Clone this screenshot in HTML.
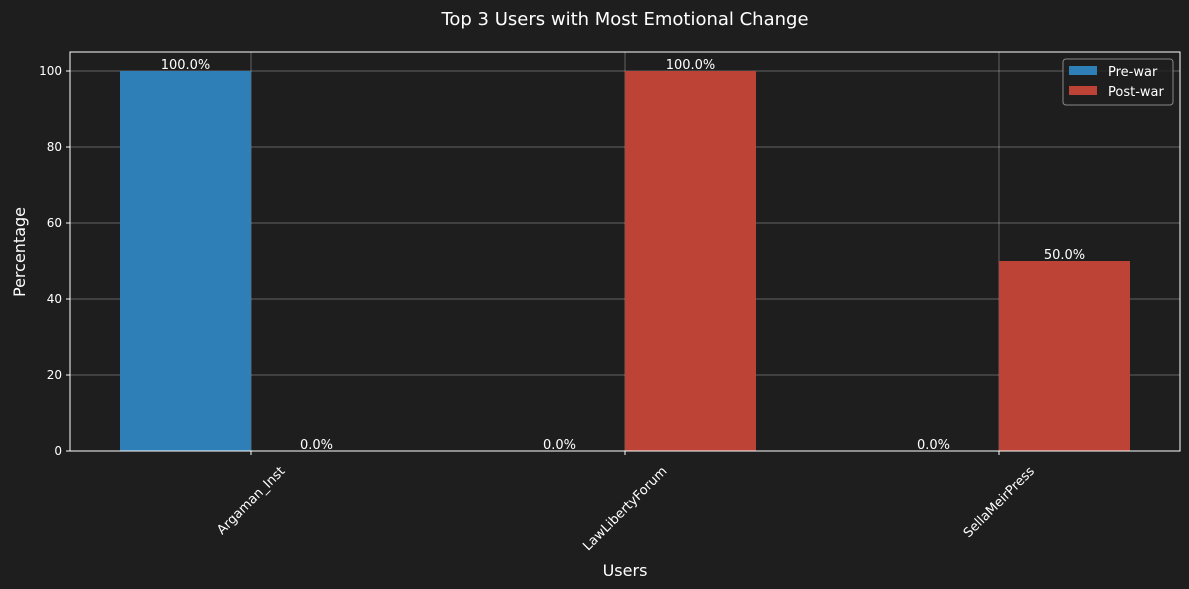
<!DOCTYPE html>
<html><head><meta charset="utf-8"><style>
html,body{margin:0;padding:0;background:#1e1e1e;}
svg{display:block;font-family:"DejaVu Sans","Liberation Sans",sans-serif;}
</style></head><body>
<svg id="c" width="1189" height="589" viewBox="0 0 1189 589">
<rect width="1189" height="589" fill="#1e1e1e"/>
<text x="625" y="25" text-anchor="middle" font-size="18" fill="#ffffff">Top 3 Users with Most Emotional Change</text>
<g id="grid"></g><g id="bars"></g><g id="labels"></g><g id="axes"></g>
<text x="625" y="576" text-anchor="middle" font-size="16" fill="#ffffff">Users</text>
<text transform="translate(25,252) rotate(-90)" text-anchor="middle" font-size="16" fill="#ffffff">Percentage</text>
<g>
<rect x="1063" y="59" width="110" height="46" rx="3" fill="#1e1e1e" fill-opacity="0.8" stroke="#888"/>
<rect x="1069" y="66" width="28" height="9" fill="#2e7fb8"/>
<text x="1108" y="76" font-size="13" fill="#ffffff">Pre-war</text>
<rect x="1069" y="86" width="28" height="9" fill="#be4337"/>
<text x="1108" y="96" font-size="13" fill="#ffffff">Post-war</text>
</g>
</svg>
<script>
const categories=["Argaman_Inst","LawLibertyForum","SellaMeirPress"];
const preWar=[100,0,0];
const postWar=[0,100,50];
const yTicks=[0,20,40,60,80,100];
const NS="http://www.w3.org/2000/svg";
const L=70,R=1180,T=52,B=451;
const y=v=>B-(v/105)*(B-T);
const x=i=>251+i*374;
const bw=131;
function mk(tag,attrs,parent,txt){const e=document.createElementNS(NS,tag);for(const k in attrs)e.setAttribute(k,attrs[k]);if(txt!==undefined)e.textContent=txt;document.getElementById(parent).appendChild(e);return e;}
yTicks.forEach(t=>{
 const g=mk("line",{x1:L,x2:R,y1:y(t),y2:y(t),stroke:"#ffffff","stroke-opacity":0.3,"stroke-width":1},"grid");
 
 
 const tk=mk("line",{x1:L-4,x2:L,y1:y(t),y2:y(t),stroke:"#fff"},"axes");
 
 
 const lb=mk("text",{x:L-8,y:y(t)+4,"text-anchor":"end","font-size":12,fill:"#fff"},"axes",t);
 
 
});
categories.forEach((c,i)=>{
 const g=mk("line",{x1:x(i),x2:x(i),y1:T,y2:B,stroke:"#ffffff","stroke-opacity":0.3},"grid");
 
 
 [[preWar[i],-1,"#2e7fb8","pre-war"],[postWar[i],0,"#be4337","post-war"]].forEach(([v,off,col,nm])=>{
  const bx=x(i)+off*bw;
  const r=mk("rect",{x:bx,y:y(v),width:bw,height:B-y(v),fill:col},"bars");
  
  
  const t=mk("text",{x:bx+bw/2,y:y(v)-2,"text-anchor":"middle","font-size":13,fill:"#fff"},"labels",v.toFixed(1)+"%");
  
  
 });
 const tk=mk("line",{x1:x(i),x2:x(i),y1:B,y2:B+4,stroke:"#fff"},"axes");
 
 
 const lb=mk("text",{x:0,y:0,"text-anchor":"middle","font-size":13,fill:"#fff"},"axes",c);
 
 
 const len=lb.getComputedTextLength();
 const cy=B+18+len*0.707/2;
 lb.setAttribute("transform",`translate(${x(i)},${cy}) rotate(-45) translate(0,4)`);
});
const fr=mk("rect",{x:L,y:T,width:R-L,height:B-T,fill:"none",stroke:"#fff","stroke-width":1},"axes");


</script>
</body></html>
